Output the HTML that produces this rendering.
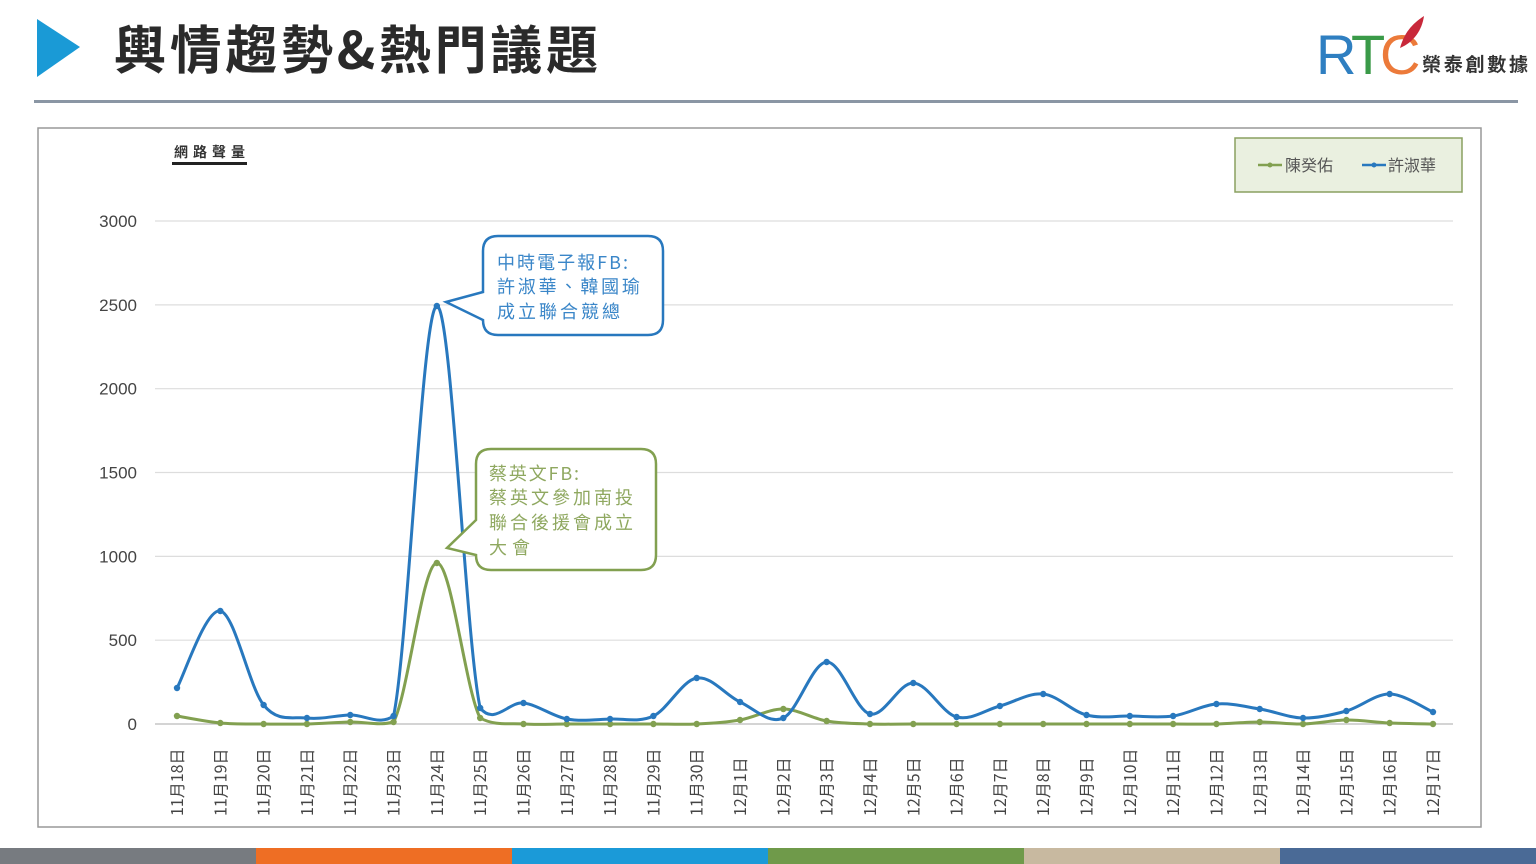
<!DOCTYPE html>
<html><head><meta charset="utf-8"><style>
body{margin:0;width:1536px;height:864px;background:#fff;overflow:hidden;font-family:"Liberation Sans","Noto Sans CJK TC",sans-serif;}
</style></head><body>
<svg width="1536" height="864" xmlns="http://www.w3.org/2000/svg" style="position:absolute;left:0;top:0" font-family="Liberation Sans, Noto Sans CJK TC, sans-serif">
<polygon points="37,19 80,47 37,77" fill="#1a9ad6"/>
<text x="114" y="69" font-size="52" font-weight="bold" fill="#2a2a2a" font-family="Noto Sans CJK TC, sans-serif" textLength="484" lengthAdjust="spacing">輿情趨勢&amp;熱門議題</text>
<text x="1316" y="74" font-size="56" fill="#2f7fc1" font-family="Liberation Sans, sans-serif">R</text>
<text x="1351" y="74" font-size="56" fill="#3a9a48" font-family="Liberation Sans, sans-serif">T</text>
<text x="1380" y="74" font-size="56" fill="#ec7a3a" font-family="Liberation Sans, sans-serif">C</text>
<path d="M1400,48 C1405,30 1415,22 1424,16 C1422,30 1414,42 1400,48Z" fill="#c8283a"/>
<text x="1422" y="71" font-size="19" font-weight="bold" fill="#333" font-family="Noto Sans CJK TC, sans-serif" textLength="106">榮泰創數據</text>
<rect x="34" y="100" width="1484" height="3" fill="#8a96a4"/>
<rect x="38" y="128" width="1443" height="699" fill="#fff" stroke="#999" stroke-width="1.5"/>
<text x="174" y="157" font-size="14" font-weight="bold" fill="#333" font-family="Noto Sans CJK TC, sans-serif" textLength="71">網路聲量</text>
<rect x="172" y="162" width="75" height="3" fill="#222"/>
<rect x="1235" y="138" width="227" height="54" fill="#eaf0e0" stroke="#8aa060" stroke-width="1.5"/>
<line x1="1258" y1="165" x2="1282" y2="165" stroke="#82a050" stroke-width="2.5"/><circle cx="1270" cy="165" r="2.5" fill="#82a050"/>
<text x="1285" y="171" font-size="16" fill="#555" font-family="Noto Sans CJK TC, sans-serif">陳癸佑</text>
<line x1="1362" y1="165" x2="1386" y2="165" stroke="#2878be" stroke-width="2.5"/><circle cx="1374" cy="165" r="2.5" fill="#2878be"/>
<text x="1388" y="171" font-size="16" fill="#555" font-family="Noto Sans CJK TC, sans-serif">許淑華</text>
<g id="grid"></g>
<g id="ylab" font-size="17" fill="#444" text-anchor="end"></g>
<g id="xlab" font-size="16" fill="#444" font-family="Noto Sans CJK TC, sans-serif"></g>
<path id="green" fill="none" stroke="#82a050" stroke-width="3"/>
<path id="blue" fill="none" stroke="#2878be" stroke-width="3"/>
<g id="dots"></g>
<path d="M498,236 H648 Q663,236 663,251 V320 Q663,335 648,335 H498 Q483,335 483,320 V320 L446,302 L483,292 V251 Q483,236 498,236Z" fill="#fff" stroke="#2878be" stroke-width="2.5"/>
<g font-size="18" fill="#3a86c8" font-family="Noto Sans CJK TC, sans-serif">
<text x="497" y="269" textLength="131">中時電子報FB:</text><text x="497" y="293" textLength="143">許淑華、韓國瑜</text><text x="497" y="318" textLength="123">成立聯合競總</text></g>
<path d="M491,449 H641 Q656,449 656,464 V555 Q656,570 641,570 H491 Q476,570 476,555 L447,548 L476,520 V464 Q476,449 491,449Z" fill="#fff" stroke="#82a050" stroke-width="2.5"/>
<g font-size="18" fill="#8fa860" font-family="Noto Sans CJK TC, sans-serif">
<text x="489" y="480" textLength="90">蔡英文FB:</text><text x="489" y="504" textLength="144">蔡英文參加南投</text><text x="489" y="529" textLength="144">聯合後援會成立</text><text x="489" y="554" textLength="41">大會</text></g>
<rect x="0" y="848" width="256" height="16" fill="#777b80"/>
<rect x="256" y="848" width="256" height="16" fill="#ee6e24"/>
<rect x="512" y="848" width="256" height="16" fill="#1b9ad8"/>
<rect x="768" y="848" width="256" height="16" fill="#6f9a4a"/>
<rect x="1024" y="848" width="256" height="16" fill="#c8b9a0"/>
<rect x="1280" y="848" width="256" height="16" fill="#4a6a96"/>
</svg>
<script>
var NS="http://www.w3.org/2000/svg";
function el(t,a,p,txt){var e=document.createElementNS(NS,t);for(var k in a)e.setAttribute(k,a[k]);if(txt)e.textContent=txt;document.getElementById(p).appendChild(e);}
for(var i=0;i<=6;i++){var y=724-i*83.83;el("line",{x1:155,x2:1453,y1:y,y2:y,stroke:i==0?"#bbb":"#ddd","stroke-width":1.2},"grid");el("text",{x:137,y:y+6},"ylab",String(i*500));}
var labels=[];for(var d=18;d<=30;d++)labels.push("11月"+d+"日");for(var d=1;d<=17;d++)labels.push("12月"+d+"日");
var xs=labels.map(function(_,i){return 177+i*43.31;});
labels.forEach(function(l,i){el("text",{transform:"translate("+(xs[i]+6)+",816) rotate(-90)"},"xlab",l);});
var B=[688,611,705,718,715,716,306,708,703,719,719,716,678,702,718,662,714,683,717,706,694,715,716,716,704,709,718,711,694,712];
var G=[716,723,724,724,722,722,563,718,724,724,724,724,724,720,709,721,724,724,724,724,724,724,724,724,724,722,724,720,723,724];
function path(Y){var d="M"+xs[0]+","+Y[0];for(var i=0;i<Y.length-1;i++){var p0=i?i-1:i,p3=i+2<Y.length?i+2:i+1;
var c1x=xs[i]+(xs[i+1]-xs[p0])/6,c1y=Y[i]+(Y[i+1]-Y[p0])/6,c2x=xs[i+1]-(xs[p3]-xs[i])/6,c2y=Y[i+1]-(Y[p3]-Y[i])/6;
c1y=Math.min(c1y,726);c2y=Math.min(c2y,726);
d+=" C"+c1x+","+c1y+" "+c2x+","+c2y+" "+xs[i+1]+","+Y[i+1];}return d;}
document.getElementById("green").setAttribute("d",path(G));
document.getElementById("blue").setAttribute("d",path(B));
G.forEach(function(y,i){el("circle",{cx:xs[i],cy:y,r:3.2,fill:"#82a050"},"dots");});
B.forEach(function(y,i){el("circle",{cx:xs[i],cy:y,r:3.2,fill:"#2878be"},"dots");});
</script>
</body></html>
